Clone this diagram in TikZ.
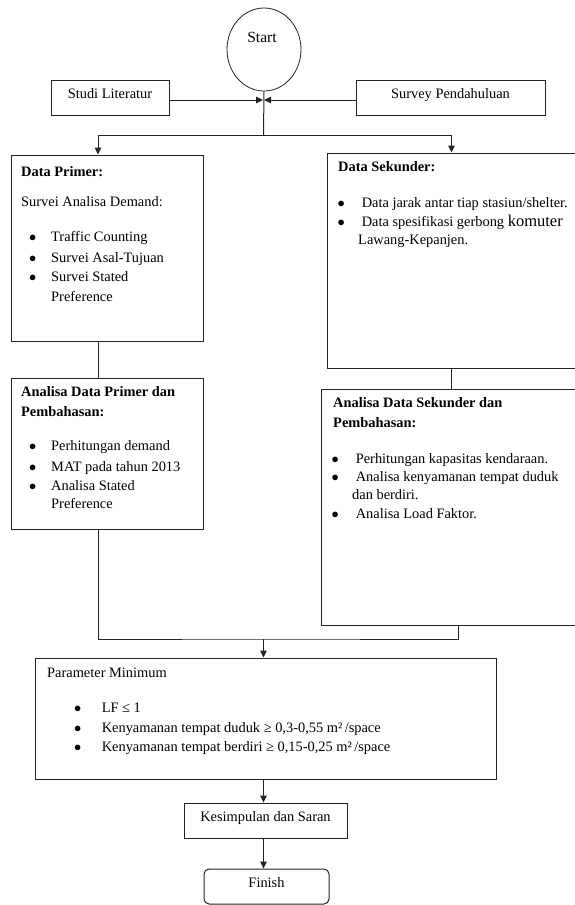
\documentclass[tikz,border=0pt]{standalone}
\usepackage{fontspec}
\setmainfont{Liberation Serif}
\usetikzlibrary{arrows.meta,positioning,shapes.geometric}
\definecolor{fcline}{RGB}{35,35,35}
\newcommand{\fcsize}{\fontsize{14.4}{17}\selectfont}
\newcommand{\bul}[1][15pt]{\llap{$\bullet$\hspace{#1}}}
\tikzset{
  startnode/.style={ellipse,draw=fcline,line width=0.8pt,minimum width=74pt,minimum height=83pt,inner sep=0pt},
  boxnode/.style={rectangle,draw=fcline,line width=1pt,inner sep=0pt},
  endnode/.style={boxnode,rounded corners=5pt},
  labeltext/.style={text height=10pt,text depth=9pt},
  itemline/.style={anchor=base west,inner sep=0pt,font=\fcsize},
  titleline/.style={itemline,font=\fcsize\bfseries},
  flowline/.style={draw=fcline,line width=1pt},
  flowarrow/.style={flowline,-{Triangle[length=7pt,width=6.5pt]}}
}

\begin{document}
\begin{tikzpicture}[x=1pt,y=-1pt,font=\fcsize]
  \useasboundingbox (0,0) rectangle (574,905);
  % start and inputs
  \node[startnode] (start) at (264,49.5) {};
  \node[inner sep=0pt,font=\fontsize{15.5}{18}\selectfont] (starttxt) at (262,37) {Start};
  \node[boxnode,labeltext,minimum width=118pt,minimum height=35pt] (studi) at (110,97.5) {Studi Literatur};
  \node[boxnode,labeltext,minimum width=189pt,minimum height=35pt] (survey) at (450.5,97.5) {Survey Pendahuluan};
  \coordinate (meet) at (263.5,100);
  \coordinate (split) at (263.5,135);
  \draw[flowline] (start.south) -- (split);
  \draw[flowarrow] (studi.east |- meet) -- ([xshift=-0.5pt]meet);
  \draw[flowarrow] (survey.west |- meet) -- ([xshift=0.5pt]meet);
  % data boxes
  \node[boxnode,minimum width=192pt,minimum height=186pt] (primer) at (107,248) {};
  \node[boxnode,minimum width=249pt,minimum height=215pt] (sekunder) at (451.5,260.5) {};
  \draw[flowarrow] (split) -| ([xshift=-9pt]primer.north);
  \draw[flowarrow] (split) -| (sekunder.north);
  \node[titleline] (prititle) at (21,176.5) {Data Primer:};
  \node[itemline] (prisub) at (21,206.5) {Survei Analisa Demand:};
  \node[itemline] (pri1) at (51,241) {\bul Traffic Counting};
  \node[itemline] (pri2) at (51,262) {\bul Survei Asal-Tujuan};
  \node[itemline] (pri3) at (51,281) {\bul Survei Stated};
  \node[itemline] (pri3b) at (51,301) {Preference};
  \node[titleline] (sektitle) at (338,171.5) {Data Sekunder:};
  \node[itemline] (sek1) at (358,207.5) {\bul[13.5pt] Data jarak antar tiap stasiun/shelter.};
  \node[itemline] (sek2) at (358,226.5) {\bul[13.5pt] Data spesifikasi gerbong {\fontsize{16.5}{18}\selectfont komuter}};
  \node[itemline] (sek2b) at (358,244) {Lawang-Kepanjen.};
  % analysis boxes
  \node[boxnode,minimum width=192pt,minimum height=151pt] (anprimer) at (107,453.5) {};
  \node[boxnode,minimum width=269pt,minimum height=236.5pt] (ansekunder) at (455.5,507.25) {};
  \draw[flowline] ([xshift=-9pt]primer.south) -- ([xshift=-9pt]anprimer.north);
  \draw[flowline] (sekunder.south) -- (sekunder.south |- ansekunder.north);
  \node[titleline] (anptitle) at (21,396.5) {Analisa Data Primer dan};
  \node[titleline] (anptitleb) at (21,416.5) {Pembahasan:};
  \node[itemline] (anp1) at (51,450) {\bul Perhitungan demand};
  \node[itemline] (anp2) at (51,471) {\bul MAT pada tahun 2013};
  \node[itemline] (anp3) at (51,490.5) {\bul Analisa Stated};
  \node[itemline] (anp3b) at (51,508.5) {Preference};
  \node[titleline] (anstitle) at (333,407.5) {Analisa Data Sekunder dan};
  \node[titleline] (anstitleb) at (333,427.5) {Pembahasan:};
  \node[itemline] (ans1) at (352,463) {\bul[13.5pt] Perhitungan kapasitas kendaraan.};
  \node[itemline] (ans2) at (352,481.5) {\bul[13.5pt] Analisa kenyamanan tempat duduk};
  \node[itemline] (ans2b) at (352,499.5) {dan berdiri.};
  \node[itemline] (ans3) at (352,518) {\bul[13.5pt] Analisa Load Faktor.};
  % merge and result
  \coordinate (merge) at (263.5,639);
  \draw[flowline] ([xshift=-9pt]anprimer.south) |- (merge) -| ([xshift=2.5pt]ansekunder.south);
  \node[boxnode,minimum width=461pt,minimum height=121pt] (param) at (265.5,718.5) {};
  \draw[flowarrow] (merge) -- (merge |- param.north);
  \node[itemline] (partitle) at (47,677) {Parameter Minimum};
  \node[itemline] (par1) at (98,712.5) {\bul[17pt] LF ≤ 1};
  \node[itemline] (par2) at (98,732) {\bul[17pt] Kenyamanan tempat duduk ≥ 0,3-0,55 m²\,/space};
  \node[itemline] (par3) at (98,751) {\bul[17pt] Kenyamanan tempat berdiri ≥ 0,15-0,25 m²\,/space};
  \node[boxnode,labeltext,minimum width=163pt,minimum height=35pt] (kesimpulan) at (265.5,820.5) {Kesimpulan dan Saran};
  \node[endnode,labeltext,minimum width=125pt,minimum height=35pt] (finish) at (266.5,886.5) {Finish};
  \draw[flowarrow] (param.south -| merge) -- (kesimpulan.north -| merge);
  \draw[flowarrow] (kesimpulan.south -| merge) -- (finish.north -| merge);
\end{tikzpicture}
\end{document}
